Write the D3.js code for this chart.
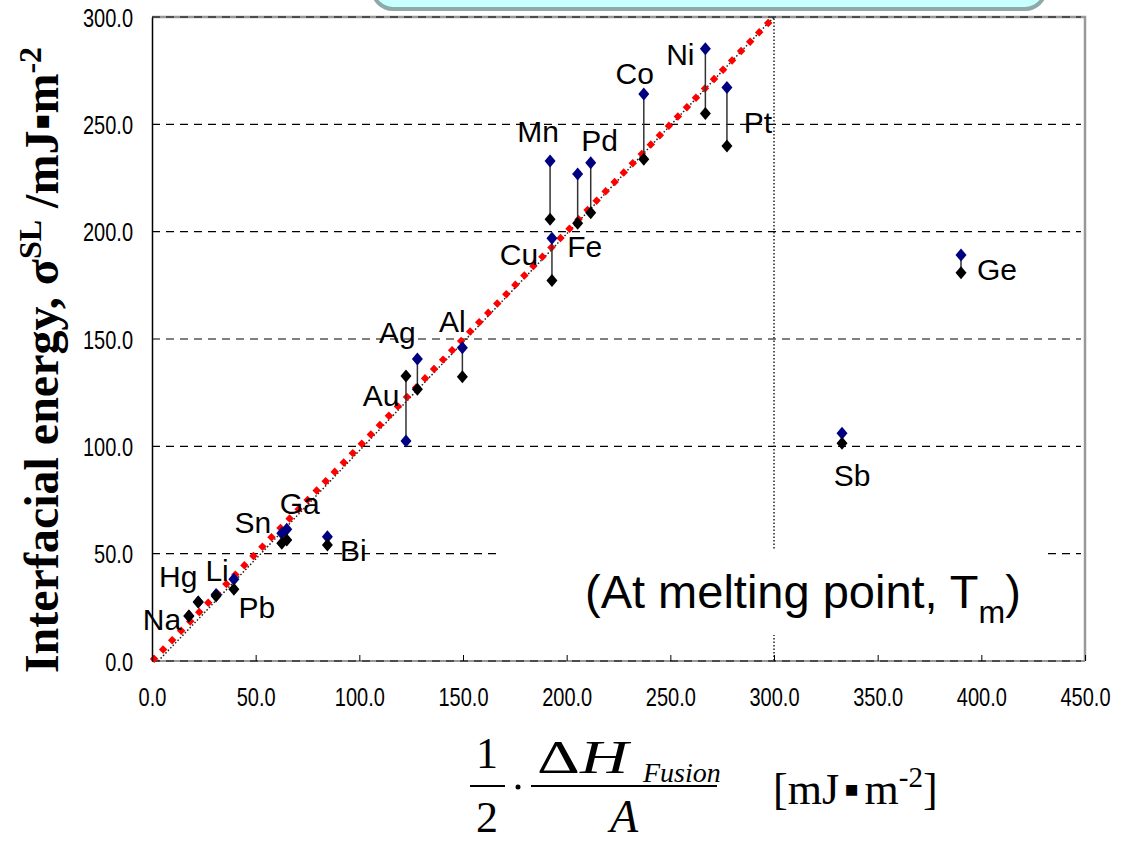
<!DOCTYPE html>
<html>
<head>
<meta charset="utf-8">
<script src="https://cdn.jsdelivr.net/npm/d3@7"></script>
<style>
  body { margin: 0; background: #fff; }
  svg { display: block; }
  .tick text { font-family: "Liberation Sans", Arial, sans-serif; font-size: 25px; fill: #000; }
  .label { font-family: "Liberation Sans", Arial, sans-serif; font-size: 30px; fill: #000; }
  .math { font-family: "Liberation Serif", "Times New Roman", serif; fill: #000; }
</style>
</head>
<body>
<svg id="chart"></svg>
<script>
// elements and their values
const elements = ['Na', 'Hg', 'Li', 'Pb', 'Sn', 'Ga', 'Bi', 'Au', 'Ag', 'Al', 'Mn', 'Cu', 'Fe', 'Pd', 'Co', 'Ni', 'Pt', 'Sb', 'Ge'];
const fusionValues = [17.8, 22.3, 30.9, 39.5, 62.6, 65.0, 84.6, 122.5, 128.0, 149.7, 192.0, 192.9, 205.3, 211.6, 237.2, 266.9, 277.3, 332.8, 390.2];
const sigmaBlue = [21.0, 27.5, 31.0, 38.1, 59.5, 61.4, 57.9, 102.5, 140.7, 145.9, 232.9, 196.9, 226.9, 232.1, 264.1, 285.2, 267.2, 106.1, 189.1];
const sigmaBlack = [21.0, 27.5, 30.3, 33.4, 54.8, 56.4, 54.0, 132.8, 126.6, 132.4, 205.8, 177.2, 203.9, 208.8, 233.7, 255.1, 239.9, 101.4, 180.9];

const xTickValues = [0, 50, 100, 150, 200, 250, 300, 350, 400, 450];
const yTickValues = [0, 50, 100, 150, 200, 250, 300];

const parityLine = [[0, 0], [300, 300]];
const guideLine = [[3, 0], [300, 300], [300, 0]];

// label placement relative to the blue marker (pixels)
const labelOffsets = {
  Na: [-27, 4], Hg: [-20, -25], Li: [1, -24], Pb: [23, 28], Sn: [-29, -11], Ga: [13, -26],
  Bi: [26, 14], Au: [-25, -45], Ag: [-20, -26], Al: [-10, -26], Mn: [-12, -30], Cu: [-33, 16],
  Fe: [7, 73], Pd: [9, -22], Co: [-9, -21], Ni: [-25, 6], Pt: [31, 35], Sb: [10, 42], Ge: [36, 14]
};

class InterfacialChart {
  constructor(_config, _data) {
    this.config = {
      parentElement: _config.parentElement,
      containerWidth: _config.containerWidth || 1131,
      containerHeight: _config.containerHeight || 842,
      margin: { top: 17, right: 46, bottom: 181, left: 152 }
    };
    this.data = _data;
    this.initVis();
  }

  initVis() {
    let vis = this;
    vis.width = vis.config.containerWidth - vis.config.margin.left - vis.config.margin.right;
    vis.height = vis.config.containerHeight - vis.config.margin.top - vis.config.margin.bottom;

    vis.xScale = d3.scaleLinear().domain([0, 450]).range([0, vis.width]);
    vis.yScale = d3.scaleLinear().domain([0, 300]).range([vis.height, 0]);

    vis.svg = d3.select(vis.config.parentElement)
      .attr('width', vis.config.containerWidth)
      .attr('height', vis.config.containerHeight);

    // title box peeking in at the top
    vis.svg.append('rect')
      .attr('x', 373).attr('y', -30)
      .attr('width', 672).attr('height', 39)
      .attr('rx', 20)
      .attr('fill', '#c8ffff')
      .attr('stroke', '#8fa9a9')
      .attr('stroke-width', 4);

    vis.chart = vis.svg.append('g')
      .attr('transform', `translate(${vis.config.margin.left},${vis.config.margin.top})`);

    vis.renderVis();
  }

  renderVis() {
    let vis = this;
    const x = vis.xScale, y = vis.yScale;

    // frame top / right
    vis.chart.append('path')
      .attr('d', `M0,0H${vis.width}V${vis.height}`)
      .attr('fill', 'none')
      .attr('stroke', '#999')
      .attr('stroke-width', 2.5);

    // bottom axis line
    vis.chart.append('line')
      .attr('x1', 0).attr('x2', vis.width)
      .attr('y1', vis.height).attr('y2', vis.height)
      .attr('stroke', '#999').attr('stroke-width', 2);

    // gridlines
    vis.chart.append('g')
      .selectAll('line')
      .data(yTickValues)
      .join('line')
      .attr('x1', 0).attr('x2', vis.width - 4)
      .attr('y1', d => y(d)).attr('y2', d => y(d))
      .attr('stroke', '#000')
      .attr('stroke-width', 1.2)
      .attr('stroke-dasharray', '8,6');

    // dotted guide line
    vis.chart.append('path')
      .attr('d', d3.line().x(d => x(d[0])).y(d => y(d[1]))(guideLine))
      .attr('fill', 'none')
      .attr('stroke', '#222')
      .attr('stroke-width', 1.5)
      .attr('stroke-dasharray', '1.5,2');

    // white box under the annotation
    vis.svg.append('rect')
      .attr('x', 498).attr('y', 549)
      .attr('width', 550).attr('height', 86)
      .attr('fill', '#fff');

    // red parity line
    vis.svg.append('path')
      .attr('transform', `translate(${vis.config.margin.left},${vis.config.margin.top})`)
      .attr('d', d3.line().x(d => x(d[0])).y(d => y(d[1]))(parityLine))
      .attr('fill', 'none')
      .attr('stroke', '#ff0000')
      .attr('stroke-width', 6)
      .attr('stroke-dasharray', '6,7');

    const plot = vis.svg.append('g')
      .attr('transform', `translate(${vis.config.margin.left},${vis.config.margin.top})`);

    // axes
    const sx = 0.8;
    const xAxis = d3.axisBottom(x).tickValues(xTickValues)
      .tickSizeInner(-6).tickSizeOuter(0).tickPadding(27)
      .tickFormat(d3.format('.1f'));
    const xAxisG = plot.append('g')
      .attr('transform', `translate(0,${vis.height})`)
      .call(xAxis);
    xAxisG.select('.domain').remove();
    xAxisG.selectAll('.tick line').attr('stroke', '#000');
    xAxisG.selectAll('.tick text').attr('transform', `scale(${sx},1)`);

    const yAxis = d3.axisLeft(y).tickValues(yTickValues)
      .tickSize(0).tickPadding(19)
      .tickFormat(d3.format('.1f'));
    const yAxisG = plot.append('g').call(yAxis);
    yAxisG.select('.domain').attr('stroke', '#000').attr('stroke-width', 1.5);
    yAxisG.selectAll('.tick text')
      .attr('dy', '0.36em')
      .attr('x', -19 / sx)
      .attr('transform', `scale(${sx},1)`);

    const rows = vis.data;

    // connectors
    plot.append('g')
      .selectAll('line')
      .data(rows)
      .join('line')
      .attr('x1', d => x(d.x)).attr('x2', d => x(d.x))
      .attr('y1', d => y(d.blue)).attr('y2', d => y(d.black))
      .attr('stroke', '#333')
      .attr('stroke-width', 1.5);

    const diamond = 'M0,-6.5L5.5,0L0,6.5L-5.5,0Z';

    plot.append('g')
      .selectAll('path')
      .data(rows)
      .join('path')
      .attr('d', diamond)
      .attr('transform', d => `translate(${x(d.x)},${y(d.blue)})`)
      .attr('fill', '#000080');

    plot.append('g')
      .selectAll('path')
      .data(rows)
      .join('path')
      .attr('d', diamond)
      .attr('transform', d => `translate(${x(d.x)},${y(d.black)})`)
      .attr('fill', '#000');

    // element labels
    plot.append('g')
      .selectAll('text')
      .data(rows)
      .join('text')
      .attr('class', 'label')
      .attr('x', d => x(d.x) + labelOffsets[d.name][0])
      .attr('y', d => y(d.blue) + labelOffsets[d.name][1])
      .attr('text-anchor', 'middle')
      .attr('dominant-baseline', 'central')
      .text(d => d.name);

    // annotation
    const note = vis.svg.append('text')
      .attr('class', 'label')
      .attr('x', 585).attr('y', 608)
      .style('font-size', '47px');
    note.append('tspan').text('(At melting point, T');
    note.append('tspan').attr('dy', 15).style('font-size', '32px').text('m');
    note.append('tspan').attr('dy', -15).text(')');

    // y axis title
    const yTitle = vis.svg.append('text')
      .attr('class', 'math')
      .attr('transform', 'translate(58,360) rotate(-90)')
      .attr('text-anchor', 'middle')
      .style('font-size', '48px')
      .style('font-weight', 'bold');
    yTitle.append('tspan').text('Interfacial energy, σ');
    yTitle.append('tspan').attr('dy', -17).style('font-size', '32px').text('SL');
    yTitle.append('tspan').attr('dy', 17).text(' /mJ');
    yTitle.append('tspan').text('▪');
    yTitle.append('tspan').text('m');
    yTitle.append('tspan').attr('dy', -17).style('font-size', '32px').text('-2');

    // x axis title (formula)
    const f = vis.svg.append('g').attr('class', 'math');
    f.append('text').attr('x', 487).attr('y', 768).attr('text-anchor', 'middle').style('font-size', '44px').text('1');
    f.append('line').attr('x1', 470).attr('x2', 505).attr('y1', 786).attr('y2', 786).attr('stroke', '#000').attr('stroke-width', 2);
    f.append('text').attr('x', 487).attr('y', 832).attr('text-anchor', 'middle').style('font-size', '44px').text('2');
    f.append('circle').attr('cx', 518).attr('cy', 787).attr('r', 2.5).attr('fill', '#000');
    const dh = f.append('text')
      .attr('transform', 'translate(537,773) scale(1.45,1)')
      .style('font-size', '46px');
    dh.append('tspan').text('Δ');
    dh.append('tspan').style('font-style', 'italic').text('H');
    f.append('text').attr('x', 643).attr('y', 782).style('font-size', '28px').style('font-style', 'italic').text('Fusion');
    f.append('line').attr('x1', 531).attr('x2', 717).attr('y1', 786).attr('y2', 786).attr('stroke', '#000').attr('stroke-width', 2);
    f.append('text').attr('x', 624).attr('y', 832).attr('text-anchor', 'middle').style('font-size', '46px').style('font-style', 'italic').text('A');
    const unit = f.append('text').attr('x', 773).attr('y', 804).style('font-size', '44px');
    unit.append('tspan').text('[mJ');
    unit.append('tspan').attr('dx', 5).text('▪');
    unit.append('tspan').attr('dx', 5).text('m');
    unit.append('tspan').attr('dy', -17).style('font-size', '29px').text('-2');
    unit.append('tspan').attr('dy', 17).text(']');
  }
}

const rows = elements.map((name, i) => ({
  name: name,
  x: fusionValues[i],
  blue: sigmaBlue[i],
  black: sigmaBlack[i]
}));

new InterfacialChart({ parentElement: '#chart' }, rows);
</script>
</body>
</html>
